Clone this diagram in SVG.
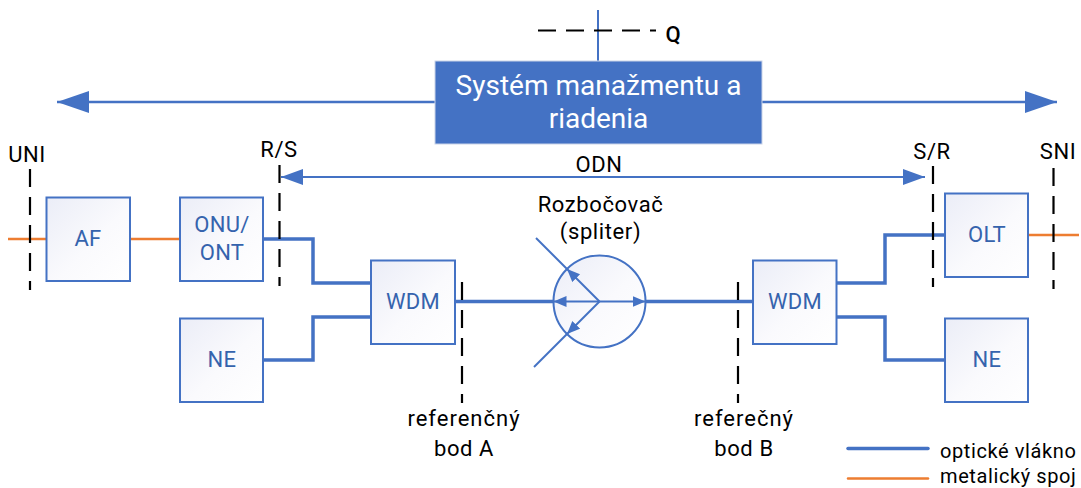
<svg xmlns="http://www.w3.org/2000/svg" width="1081" height="488" viewBox="0 0 1081 488">
<style>
text{font-family:"Roboto","Liberation Sans",sans-serif}
.box{fill:url(#g);stroke:#4472c4;stroke-width:2}
.bl{fill:#3563ad;font-size:22px;text-anchor:middle;letter-spacing:.3px}
.lb{fill:#000;font-size:22px;text-anchor:middle;letter-spacing:.6px}
.rf{letter-spacing:1px}
.lg{fill:#000;font-size:20px;letter-spacing:.6px}
.dash{fill:none;stroke:#000;stroke-width:2.2;stroke-dasharray:18 10}
.fib{fill:none;stroke:#4472c4;stroke-width:3.5}
.thin{fill:none;stroke:#4472c4;stroke-width:2}
.mid{fill:none;stroke:#4472c4;stroke-width:2.5}
.met{fill:none;stroke:#ed7d31;stroke-width:2.5}
</style>
<defs>
<linearGradient id="g" x1="0" y1="0" x2="1" y2="1"><stop offset="0" stop-color="#ebedf7"/><stop offset="0.55" stop-color="#fafafd"/><stop offset="1" stop-color="#ffffff"/></linearGradient>
<marker id="a" markerUnits="userSpaceOnUse" markerWidth="34" markerHeight="24" refX="32" refY="11" orient="auto-start-reverse"><path d="M0 0L32 11L0 22Z" fill="#4472c4"/></marker>
<marker id="b" markerUnits="userSpaceOnUse" markerWidth="24" markerHeight="18" refX="22" refY="8" orient="auto-start-reverse"><path d="M0 0L22 8L0 16Z" fill="#4472c4"/></marker>
<marker id="c" markerUnits="userSpaceOnUse" markerWidth="14" markerHeight="12" refX="13" refY="5.5" orient="auto-start-reverse"><path d="M0 0L13 5.500L0 11Z" fill="#4472c4"/></marker>
</defs>
<g id="connectors">
<path class="mid" d="M435 102H57" marker-end="url(#a)"/>
<path class="mid" d="M762 102H1057" marker-end="url(#a)"/>
<path class="thin" d="M598 61V10"/>
<path class="thin" d="M925 177H281" marker-start="url(#b)" marker-end="url(#b)"/>
<path class="met" d="M8 239H46M130 239H180M1028 235H1079"/>
<path class="fib" d="M262 239H313V283H371"/>
<path class="fib" d="M263 360H313V317H371"/>
<path class="fib" d="M836 283H885V235H945"/>
<path class="fib" d="M836 317H885V360H945"/>
<path class="fib" d="M455 301.500H553.500M645.500 301.500H753"/>
<path class="dash" d="M538 30.500H656"/>
<path class="dash" d="M30 169V290"/>
<path class="dash" d="M279.500 165V286"/>
<path class="dash" d="M933 166V287"/>
<path class="dash" d="M1053.500 168V289"/>
<path class="dash" d="M462 282V403"/>
<path class="dash" d="M738 282V403"/>
</g>
<g id="af"><rect class="box" x="46.500" y="197.500" width="83.500" height="83.500"/><text class="bl" x="88" y="246">AF</text></g>
<g id="onu"><rect class="box" x="180" y="197.500" width="83" height="83.500"/><text class="bl" x="222" y="232">ONU/</text><text class="bl" x="222" y="260">ONT</text></g>
<g id="ne-left"><rect class="box" x="180" y="318.500" width="83" height="83.500"/><text class="bl" x="222" y="367">NE</text></g>
<g id="wdm-left"><rect class="box" x="371" y="260.500" width="84" height="83.500"/><text class="bl" x="413" y="309">WDM</text></g>
<g id="splitter">
<circle class="box" cx="599.500" cy="301.500" r="46"/>
<path class="thin" d="M536 238L567 269"/>
<path class="thin" d="M534 367L567 334"/>
<path class="thin" d="M599.500 301.500L567 269" marker-end="url(#c)"/>
<path class="thin" d="M599.500 301.500L567 334" marker-end="url(#c)"/>
<path class="thin" d="M599.500 301.500H553.500" marker-end="url(#c)"/>
<path class="thin" d="M599.500 301.500H645.500" marker-end="url(#c)"/>
</g>
<g id="wdm-right"><rect class="box" x="753" y="260.500" width="83.500" height="83.500"/><text class="bl" x="795" y="309">WDM</text></g>
<g id="olt"><rect class="box" x="945" y="193.500" width="83" height="83.500"/><text class="bl" x="987" y="242">OLT</text></g>
<g id="ne-right"><rect class="box" x="945" y="318.500" width="83" height="83.500"/><text class="bl" x="987" y="367">NE</text></g>
<g id="mgmt"><rect x="435" y="61" width="327" height="83" fill="#4472c4" stroke="#c9d3e8" stroke-width="1"/>
<text x="598.500" y="95" font-size="28" fill="#fff" text-anchor="middle">Systém manažmentu a</text>
<text x="598.500" y="128" font-size="28" fill="#fff" text-anchor="middle">riadenia</text></g>
<g id="labels">
<text class="lb" x="673.500" y="42" font-weight="500">Q</text>
<text class="lb" x="27" y="162">UNI</text>
<text class="lb" x="279" y="157">R/S</text>
<text class="lb" x="932" y="159">S/R</text>
<text class="lb" x="1058" y="159">SNI</text>
<text class="lb" x="599" y="172">ODN</text>
<text class="lb" x="600.500" y="212">Rozbočovač</text>
<text class="lb" x="600.500" y="239">(spliter)</text>
<text class="lb rf" x="464" y="426">referenčný</text>
<text class="lb" x="464" y="456">bod A</text>
<text class="lb rf" x="744" y="426">referečný</text>
<text class="lb" x="744" y="456">bod B</text>
</g>
<g id="legend">
<path d="M848 448.500H928" stroke="#4472c4" stroke-width="3.500" stroke-linecap="round"/>
<path d="M848 478.500H928" stroke="#ed7d31" stroke-width="2.500" stroke-linecap="round"/>
<text class="lg" x="940" y="458">optické vlákno</text>
<text class="lg" x="940" y="483">metalický spoj</text>
</g>
</svg>
